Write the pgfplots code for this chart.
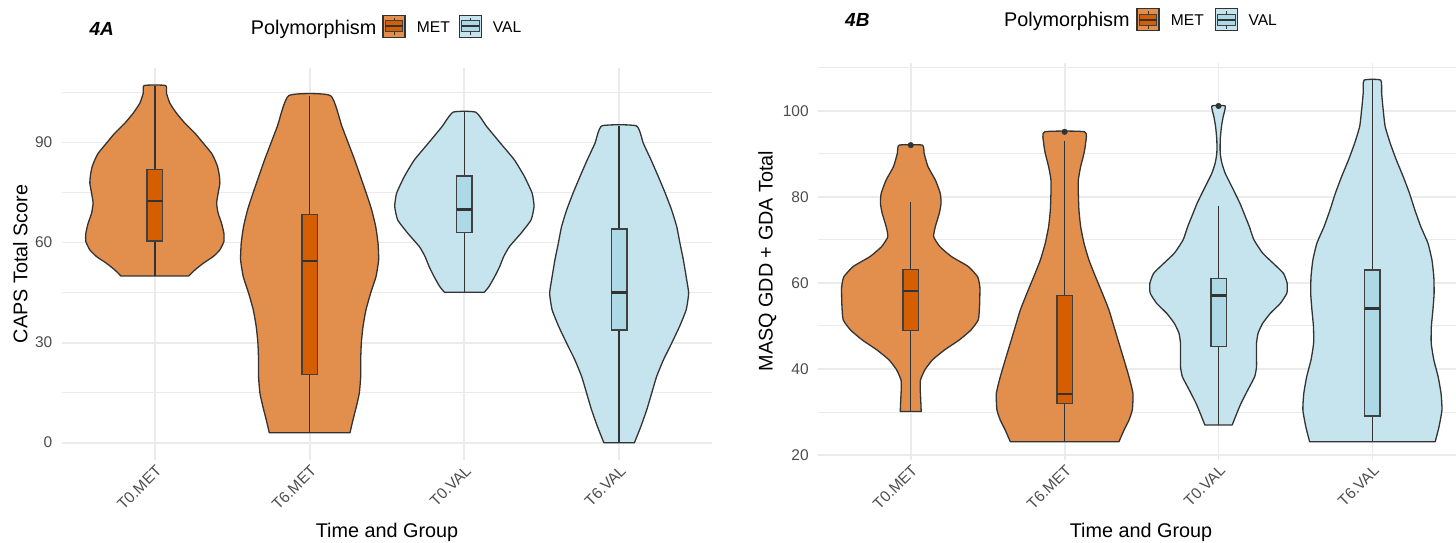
\documentclass[border=0pt]{standalone}
\usepackage{pgfplots}
\pgfplotsset{compat=1.18}
\usepackage{pgfplotstable}
\usepackage{fontspec}
\setmainfont{Liberation Sans}

\definecolor{metv}{RGB}{226,142,77}
\definecolor{valv}{RGB}{198,228,238}
\definecolor{metb}{RGB}{213,94,0}
\definecolor{valb}{RGB}{173,216,230}
\definecolor{outl}{RGB}{51,51,51}
\definecolor{boxl}{RGB}{64,64,64}
\definecolor{gridc}{RGB}{235,235,235}
\definecolor{tickc}{RGB}{77,77,77}

\newcommand\tickfont{\fontsize{15.5}{18}\selectfont}
\newcommand\titlefont{\fontsize{19.8}{23}\selectfont}
\newcommand\legfont{\fontsize{15.6}{18}\selectfont}

% violin outlines: y value and signed half width (category units);
% right side bottom->top, then left side top->bottom
\pgfplotstableread{
y w
50.0 0.220
51.8 0.259
53.8 0.313
55.8 0.377
57.8 0.420
60.3 0.446
62.8 0.446
65.8 0.431
68.8 0.409
71.8 0.399
74.8 0.409
77.8 0.420
80.3 0.416
82.8 0.405
84.8 0.388
86.8 0.366
89.8 0.313
92.8 0.259
95.8 0.194
98.8 0.140
101.8 0.097
104.8 0.075
107.1 0.069
107.1 -0.069
104.8 -0.075
101.8 -0.097
98.8 -0.140
95.8 -0.194
92.8 -0.259
89.8 -0.313
86.8 -0.366
84.8 -0.388
82.8 -0.405
80.3 -0.416
77.8 -0.420
74.8 -0.409
71.8 -0.399
68.8 -0.409
65.8 -0.431
62.8 -0.446
60.3 -0.446
57.8 -0.420
55.8 -0.377
53.8 -0.313
51.8 -0.259
50.0 -0.220
}\vAa
\pgfplotstableread{
y w
3.0 0.261
6.8 0.280
10.8 0.302
14.8 0.321
19.8 0.330
24.8 0.330
29.8 0.334
34.8 0.345
39.8 0.364
44.8 0.394
49.8 0.429
54.8 0.446
59.8 0.442
64.8 0.427
69.8 0.401
74.8 0.366
84.8 0.291
94.8 0.209
104.1 0.134
104.1 -0.134
94.8 -0.209
84.8 -0.291
74.8 -0.366
69.8 -0.401
64.8 -0.427
59.8 -0.442
54.8 -0.446
49.8 -0.429
44.8 -0.394
39.8 -0.364
34.8 -0.345
29.8 -0.334
24.8 -0.330
19.8 -0.330
14.8 -0.321
10.8 -0.302
6.8 -0.280
3.0 -0.261
}\vAb
\pgfplotstableread{
y w
45.1 0.129
46.8 0.159
49.8 0.196
52.8 0.228
55.8 0.254
58.8 0.291
62.8 0.366
66.8 0.431
70.8 0.450
74.8 0.438
79.8 0.388
84.8 0.323
89.8 0.233
94.8 0.144
99.1 0.073
99.1 -0.073
94.8 -0.144
89.8 -0.233
84.8 -0.323
79.8 -0.388
74.8 -0.438
70.8 -0.450
66.8 -0.431
62.8 -0.366
58.8 -0.291
55.8 -0.254
52.8 -0.228
49.8 -0.196
46.8 -0.159
45.1 -0.129
}\vAc
\pgfplotstableread{
y w
0.0 0.099
4.8 0.140
9.8 0.178
14.8 0.210
19.8 0.242
24.8 0.286
29.8 0.339
34.8 0.390
39.8 0.433
44.8 0.449
49.8 0.433
54.8 0.415
59.8 0.393
64.8 0.372
69.8 0.339
74.8 0.298
79.8 0.253
84.8 0.206
89.8 0.156
95.0 0.111
95.0 -0.111
89.8 -0.156
84.8 -0.206
79.8 -0.253
74.8 -0.298
69.8 -0.339
64.8 -0.372
59.8 -0.393
54.8 -0.415
49.8 -0.433
44.8 -0.449
39.8 -0.433
34.8 -0.390
29.8 -0.339
24.8 -0.286
19.8 -0.242
14.8 -0.210
9.8 -0.178
4.8 -0.140
0.0 -0.099
}\vAd
\pgfplotstableread{
y w
30.1 0.068
32.8 0.065
35.1 0.062
37.4 0.063
39.8 0.092
42.1 0.141
44.4 0.219
46.7 0.314
49.0 0.390
51.4 0.439
54.5 0.447
56.8 0.449
59.1 0.449
61.4 0.435
63.8 0.374
66.1 0.265
68.4 0.190
70.7 0.149
73.1 0.160
76.2 0.186
78.5 0.197
80.8 0.192
83.9 0.160
87.0 0.112
90.1 0.087
92.0 0.075
92.0 -0.075
90.1 -0.087
87.0 -0.112
83.9 -0.160
80.8 -0.192
78.5 -0.197
76.2 -0.186
73.1 -0.160
70.7 -0.149
68.4 -0.190
66.1 -0.265
63.8 -0.374
61.4 -0.435
59.1 -0.449
56.8 -0.449
54.5 -0.447
51.4 -0.439
49.0 -0.390
46.7 -0.314
44.4 -0.219
42.1 -0.141
39.8 -0.092
37.4 -0.063
35.1 -0.062
32.8 -0.065
30.1 -0.068
}\vBa
\pgfplotstableread{
y w
23.1 0.353
25.8 0.386
28.1 0.418
30.5 0.440
34.3 0.444
38.2 0.418
42.1 0.386
46.0 0.353
49.8 0.321
53.7 0.288
57.6 0.245
61.4 0.201
65.3 0.158
69.2 0.126
73.1 0.104
76.9 0.093
80.8 0.089
83.9 0.089
87.0 0.104
90.1 0.126
92.4 0.136
95.1 0.130
95.1 -0.130
92.4 -0.136
90.1 -0.126
87.0 -0.104
83.9 -0.089
80.8 -0.089
76.9 -0.093
73.1 -0.104
69.2 -0.126
65.3 -0.158
61.4 -0.201
57.6 -0.245
53.7 -0.288
49.8 -0.321
46.0 -0.353
42.1 -0.386
38.2 -0.418
34.3 -0.444
30.5 -0.440
28.1 -0.418
25.8 -0.386
23.1 -0.353
}\vBb
\pgfplotstableread{
y w
27.0 0.089
29.7 0.119
32.0 0.146
35.1 0.190
38.2 0.235
40.5 0.247
43.6 0.247
46.0 0.247
48.3 0.257
50.6 0.287
52.9 0.336
55.2 0.401
57.6 0.444
59.9 0.446
62.2 0.422
64.5 0.357
66.9 0.287
70.0 0.230
73.1 0.200
76.2 0.165
78.5 0.139
80.8 0.108
83.1 0.076
85.5 0.043
87.8 0.022
90.1 0.011
93.2 0.011
96.3 0.019
98.6 0.030
101.1 0.043
101.1 -0.043
98.6 -0.030
96.3 -0.019
93.2 -0.011
90.1 -0.011
87.8 -0.022
85.5 -0.043
83.1 -0.076
80.8 -0.108
78.5 -0.139
76.2 -0.165
73.1 -0.200
70.0 -0.230
66.9 -0.287
64.5 -0.357
62.2 -0.422
59.9 -0.446
57.6 -0.444
55.2 -0.401
52.9 -0.336
50.6 -0.287
48.3 -0.257
46.0 -0.247
43.6 -0.247
40.5 -0.247
38.2 -0.235
35.1 -0.190
32.0 -0.146
29.7 -0.119
27.0 -0.089
}\vBc
\pgfplotstableread{
y w
23.1 0.408
26.6 0.433
30.5 0.452
34.3 0.446
38.2 0.427
42.1 0.399
46.0 0.382
49.8 0.383
53.7 0.393
57.6 0.401
61.4 0.399
65.3 0.387
69.2 0.361
73.1 0.314
76.9 0.276
80.8 0.241
84.7 0.200
88.6 0.155
92.4 0.116
96.3 0.083
100.2 0.070
104.0 0.060
107.1 0.054
107.1 -0.054
104.0 -0.060
100.2 -0.070
96.3 -0.083
92.4 -0.116
88.6 -0.155
84.7 -0.200
80.8 -0.241
76.9 -0.276
73.1 -0.314
69.2 -0.361
65.3 -0.387
61.4 -0.399
57.6 -0.401
53.7 -0.393
49.8 -0.383
46.0 -0.382
42.1 -0.399
38.2 -0.427
34.3 -0.446
30.5 -0.452
26.6 -0.433
23.1 -0.408
}\vBd

\newcommand\violin[3]{%
  \addplot[fill=#3, draw=outl, line width=1.3pt, line join=round, smooth, tension=0.3] table[x expr=#1+\thisrow{w}, y=y]{#2} -- cycle;
}
% position, lower whisker, lower quartile, median, upper quartile, upper whisker, fill
\newcommand\bplot[7]{%
  \addplot[draw=outl, line width=1.3pt] coordinates {(#1,#2) (#1,#3)};
  \addplot[draw=outl, line width=1.3pt] coordinates {(#1,#5) (#1,#6)};
  \addplot[fill=#7, draw=boxl, line width=1.4pt] coordinates {(#1-0.05,#3) (#1+0.05,#3) (#1+0.05,#5) (#1-0.05,#5)} -- cycle;
  \addplot[draw=outl, line width=2.7pt] coordinates {(#1-0.05,#4) (#1+0.05,#4)};
}
\newcommand\legkey[4]{%
  \fill[#3] (#1,#2) rectangle ++(22,22);
  \draw[outl, line width=1.2pt] (#1,#2) rectangle ++(22,22);
  \draw[outl, line width=1pt] (#1+11,#2+2.2) -- ++(0,3.3) (#1+11,#2+16.5) -- ++(0,3.3);
  \filldraw[fill=#4, draw=boxl, line width=1pt] (#1+2.2,#2+5.5) rectangle (#1+19.8,#2+16.5);
  \draw[outl, line width=2pt] (#1+2.2,#2+11) -- (#1+19.8,#2+11);
}

\pgfplotsset{vstyle/.style={
  scale only axis,
  axis line style={draw=none}, tick style={draw=none},
  xmin=0.4,
  xtick={1,2,3,4}, xticklabels={T0.MET,T6.MET,T0.VAL,T6.VAL},
  xmajorgrids, ymajorgrids, yminorgrids,
  major grid style={draw=gridc, line width=1.8pt},
  minor grid style={draw=gridc, line width=0.9pt},
  tick label style={font=\tickfont, color=tickc},
  /pgf/number format/assume math mode=true,
  yticklabel style={anchor=east, inner sep=0pt, xshift=-9.5pt},
  xticklabel style={inner sep=0pt, yshift=-3.5pt, rotate=45, anchor=north east},
}}

\begin{document}
\begin{tikzpicture}
\begin{axis}[vstyle, at={(62pt,82.5pt)}, anchor=south west,
  width=650pt, height=392.5pt, xmax=4.6, ymin=-5.35, ymax=112.35,
  ytick={0,30,60,90}, minor ytick={15,45,75,105}]
  \violin{1}{\vAa}{metv}
  \violin{2}{\vAb}{metv}
  \violin{3}{\vAc}{valv}
  \violin{4}{\vAd}{valv}
  \bplot{1}{50}{60.5}{72.5}{82}{107.1}{metb}
  \bplot{2}{3}{20.5}{54.5}{68.4}{104.1}{metb}
  \bplot{3}{45.1}{63}{70}{80}{99.1}{valb}
  \bplot{4}{0}{33.8}{45}{64.1}{95}{valb}
\end{axis}
\begin{axis}[vstyle, at={(818.4pt,82.8pt)}, anchor=south west,
  width=637.1pt, height=397.7pt, xmax=4.54, ymin=18.8, ymax=111.2,
  ytick={20,40,60,80,100}, minor ytick={30,50,70,90,110}]
  \violin{1}{\vBa}{metv}
  \violin{2}{\vBb}{metv}
  \violin{3}{\vBc}{valv}
  \violin{4}{\vBd}{valv}
  \bplot{1}{30.1}{49}{58.1}{63.1}{78.9}{metb}
  \bplot{2}{23.1}{32}{34.2}{57}{93}{metb}
  \bplot{3}{27}{45.2}{57}{61.05}{77.9}{valb}
  \bplot{4}{23.1}{29.1}{54.1}{63}{107.1}{valb}
  \addplot[only marks, mark=*, mark size=2.8pt, color=outl] coordinates {(1,92.0) (2,95.1) (3,101.1)};
\end{axis}
\begin{scope}[x=1pt,y=1pt]
% axis titles
\node[rotate=90, anchor=base, inner sep=0pt, font=\titlefont] at (27.3,279) {CAPS Total Score};
\node[rotate=90, anchor=base, inner sep=0pt, font=\titlefont] at (772.5,282) {MASQ GDD + GDA Total};
\node[anchor=base, inner sep=0pt, font=\titlefont] at (387,5.5) {Time and Group};
\node[anchor=base, inner sep=0pt, font=\titlefont] at (1141,5.5) {Time and Group};
% panel tags
\node[anchor=base west, inner sep=0pt, font=\fontsize{19}{22}\selectfont\bfseries\itshape] at (89.3,507.3) {4A};
\node[anchor=base west, inner sep=0pt, font=\fontsize{19}{22}\selectfont\bfseries\itshape] at (845,516.3) {4B};
% legends
\node[anchor=base west, inner sep=0pt, font=\titlefont] at (250.7,508.7) {Polymorphism};
\legkey{383}{505.5}{metv}{metb}
\node[anchor=base west, inner sep=0pt, font=\legfont] at (416.7,510.5) {MET};
\legkey{459.5}{505.5}{valv}{valb}
\node[anchor=base west, inner sep=0pt, font=\legfont] at (492.7,510.5) {VAL};
\node[anchor=base west, inner sep=0pt, font=\titlefont] at (1004,516.3) {Polymorphism};
\legkey{1137}{512.2}{metv}{metb}
\node[anchor=base west, inner sep=0pt, font=\legfont] at (1170.7,517.9) {MET};
\legkey{1215.5}{512.2}{valv}{valb}
\node[anchor=base west, inner sep=0pt, font=\legfont] at (1248.3,517.9) {VAL};
\pgfresetboundingbox
\path[use as bounding box] (0,0) rectangle (1456,543);
\end{scope}
\end{tikzpicture}
\end{document}
